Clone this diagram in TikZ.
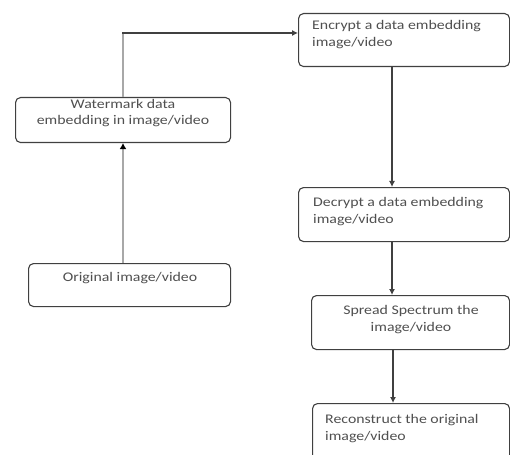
\documentclass[tikz,border=0pt]{standalone}
\usepackage{fontspec}
\setmainfont{Carlito}[FakeStretch=1.2]
\usetikzlibrary{arrows.meta}
\definecolor{boxline}{HTML}{404040}
\definecolor{grayline}{HTML}{A8A8A8}
\definecolor{txt}{HTML}{505050}
\tikzset{
  box/.style={draw=boxline, line width=1.1pt, rounded corners=5pt, fill=white, inner sep=0pt},
  lbl/.style={inner sep=0pt, text=txt, font=\fontsize{13.2}{17}\selectfont},
  conn/.style={draw=boxline, line width=1.1pt, -{Latex[length=6pt,width=6pt]}},
  gconn/.style={draw=grayline, line width=2.2pt, -{Latex[length=6pt,width=7pt,color=black]}},
}
\begin{document}
\begin{tikzpicture}[x=1pt,y=-1pt]
\useasboundingbox (0,0) rectangle (510,454);
% boxes
\node[box, minimum width=211pt, minimum height=53pt, anchor=north west] (enc) at (298,13) {};
\node[box, minimum width=215pt, minimum height=45pt, anchor=north west] (wm) at (15,97) {};
\node[box, minimum width=202pt, minimum height=43pt, anchor=north west] (orig) at (28,263) {};
\node[box, minimum width=211pt, minimum height=54pt, anchor=north west] (dec) at (298,187) {};
\node[box, minimum width=198pt, minimum height=54pt, anchor=north west] (spr) at (311,295) {};
\node[box, minimum width=197pt, minimum height=70pt, anchor=north west] (rec) at (312,403) {};
% texts
\node[lbl, align=left, anchor=base west] (enct) at (312,47) {Encrypt a data embedding\\image/video};
\node[lbl, align=center, anchor=base, font=\fontsize{13.2}{16}\selectfont] (wmt) at (123,125) {Watermark data\\embedding in image/video};
\node[lbl, align=center, anchor=base] (origt) at (130,281) {Original image/video};
\node[lbl, align=left, anchor=base west] (dect) at (313,223) {Decrypt a data embedding\\image/video};
\node[lbl, align=center, anchor=base] (sprt) at (411,331) {Spread Spectrum the\\image/video};
\node[lbl, align=left, anchor=base west] (rect) at (325,440) {Reconstruct the original\\image/video};
% connectors
\coordinate (bend) at (123,33);
\draw[gconn] (orig.north -| 123,0) -- (wm.south -| 123,0);
\draw[grayline, line width=2.2pt] (wm.north -| 123,0) -- (bend);
\draw[conn] ([xshift=-1pt]bend) -- (enc.west |- bend);
\draw[conn] (enc.south -| 392,0) -- (dec.north -| 392,0);
\draw[conn] (dec.south -| 392,0) -- (spr.north -| 392,0);
\draw[conn] (spr.south -| 393,0) -- (rec.north -| 393,0);
\end{tikzpicture}
\end{document}
